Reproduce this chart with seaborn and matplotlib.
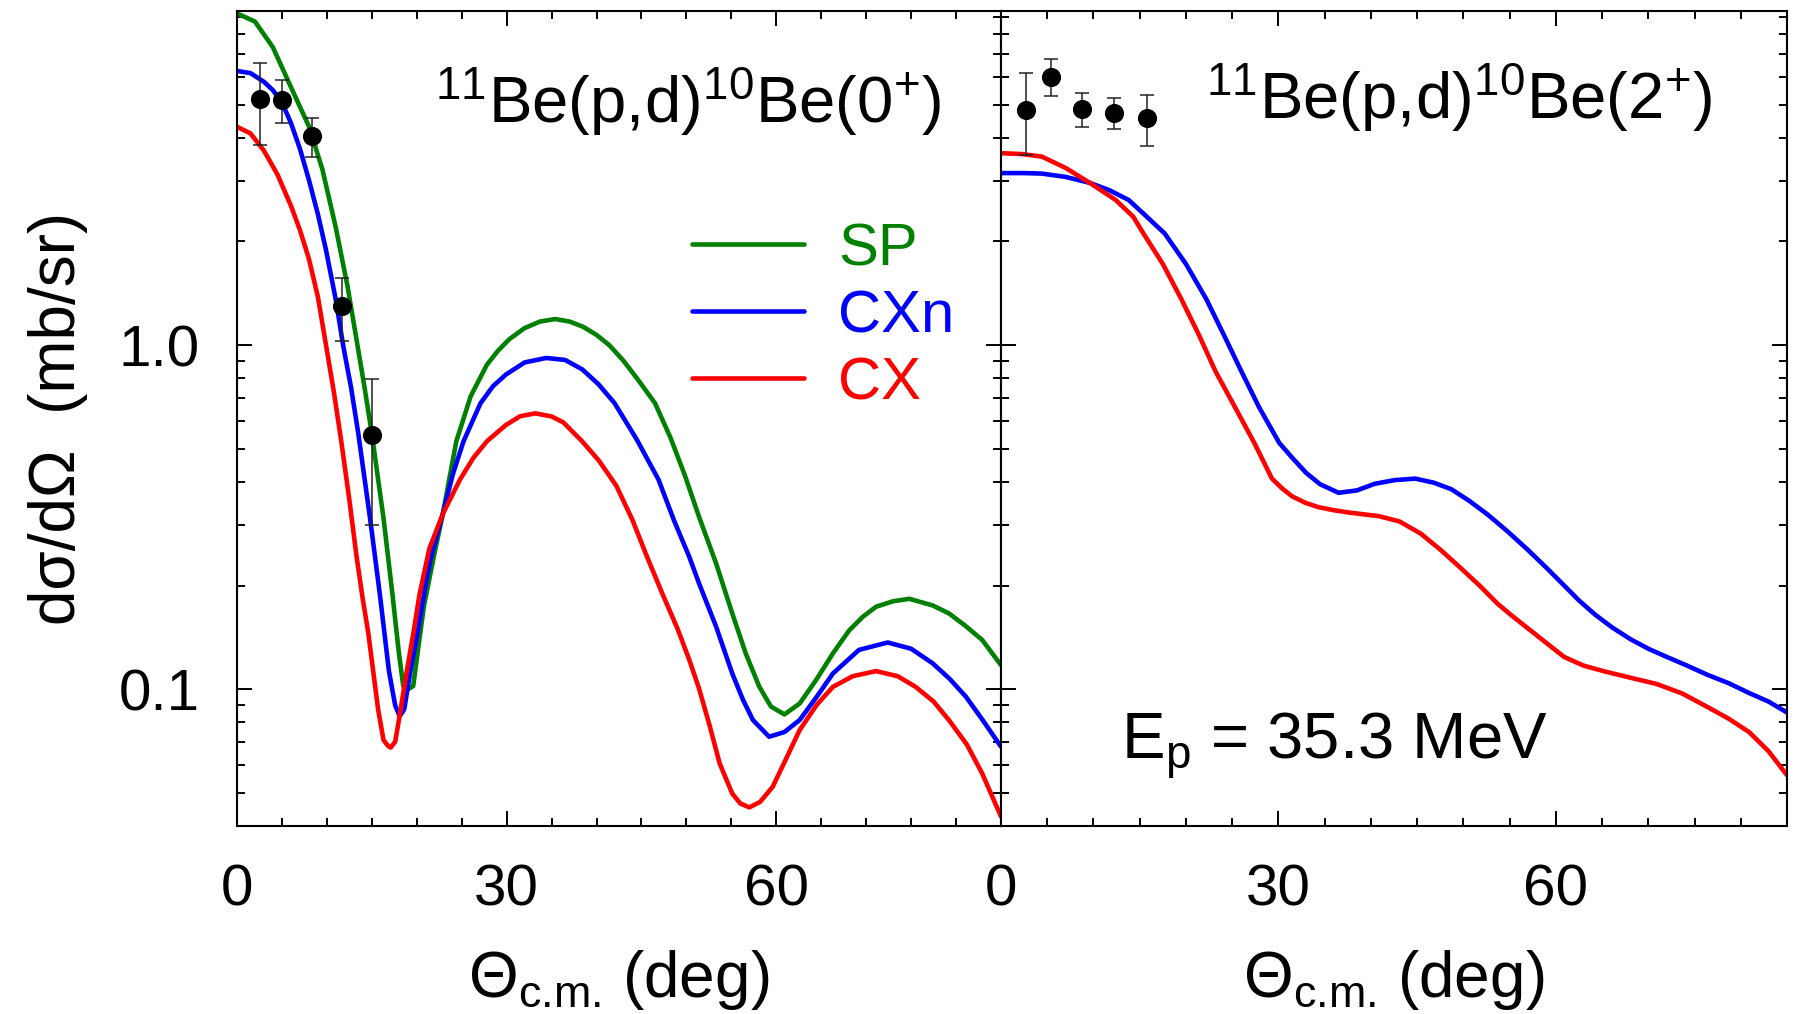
import matplotlib
matplotlib.use("Agg")
import matplotlib.pyplot as plt
from matplotlib.lines import Line2D
from matplotlib.ticker import FixedLocator, LogLocator, NullFormatter, FixedFormatter, MultipleLocator
import numpy as np
import pandas as pd
import seaborn as sns

# ---------------- data ----------------
models = ["SP", "CXn", "CX"]
colors = {"SP": "#008000", "CXn": "#0000ff", "CX": "#ff0000"}

# left panel: 11Be(p,d)10Be(0+)
sp0_theta = [0, 2.0, 4.0, 6.0, 8.0, 9.5, 11.0, 12.3, 13.4, 14.2, 15.0, 16.3, 17.3, 18.0, 18.5, 19.05,
             19.6, 20.1, 20.8, 21.9, 22.9, 24.4, 26.0, 27.8, 29.0, 30.3, 32.0, 33.7, 35.4, 37.0,
             38.5, 40.0, 41.4, 43.0, 44.5, 46.5, 48.2, 49.8, 51.4, 53.3, 55.1, 56.6, 58.1, 59.4,
             60.9, 62.6, 64.4, 66.3, 68.1, 69.6, 71.1, 73.0, 74.8, 77.4, 79.2, 81.0, 82.9, 85.0]
sp0_xs = [9.20, 8.71, 7.33, 5.62, 4.32, 3.24, 2.19, 1.48, 1.0, 0.75, 0.552, 0.314, 0.188, 0.128, 0.102, 0.100,
          0.102, 0.128, 0.1745, 0.243, 0.323, 0.525, 0.71, 0.876, 0.96, 1.04, 1.12, 1.17, 1.19, 1.17,
          1.13, 1.07, 1.0, 0.90, 0.80, 0.678, 0.54, 0.42, 0.317, 0.232, 0.166, 0.127, 0.1017, 0.089,
          0.0844, 0.0908, 0.106, 0.127, 0.148, 0.162, 0.1735, 0.180, 0.183, 0.175, 0.166, 0.153, 0.139, 0.1174]

cxn0_theta = [0, 1.5, 3.0, 4.0, 5.0, 6.0, 7.0, 8.0, 9.0, 9.9, 11.0, 11.8, 12.7, 13.5, 14.8, 15.9, 16.9,
              17.6, 18.1, 18.6, 19.3, 20.1, 21.0, 21.6, 22.9, 24.0, 25.2, 27.1, 28.5, 29.9, 32.0, 34.4,
              36.5, 38.4, 40.2, 42.0, 44.5, 46.9, 48.6, 50.3, 51.4, 53.3, 55.1, 56.3, 57.4, 59.2, 60.9,
              62.6, 64.5, 66.3, 69.2, 72.4, 75.0, 77.4, 79.3, 81.1, 83.0, 85.0]
cxn0_xs = [6.26, 6.17, 5.82, 5.50, 5.07, 4.42, 3.72, 3.02, 2.40, 1.89, 1.35, 1.0, 0.75, 0.552, 0.314, 0.188, 0.113,
           0.0896, 0.0834, 0.0873, 0.113, 0.146, 0.203, 0.243, 0.323, 0.42, 0.525, 0.678, 0.76, 0.82, 0.89, 0.917,
           0.905, 0.85, 0.77, 0.678, 0.53, 0.406, 0.31, 0.243, 0.203, 0.152, 0.111, 0.093, 0.0813, 0.0727, 0.075,
           0.0813, 0.095, 0.111, 0.130, 0.1366, 0.131, 0.1188, 0.107, 0.095, 0.081, 0.068]

cx0_theta = [0, 1.5, 3.0, 4.5, 6.0, 7.0, 8.0, 9.0, 9.9, 10.8, 11.6, 12.5, 13.3, 14.0, 14.6, 15.7, 16.3,
             16.8, 17.1, 17.6, 18.0, 18.9, 19.7, 20.3, 21.4, 22.9, 24.8, 26.3, 27.8, 29.9, 31.5, 33.2,
             35.0, 36.3, 38.4, 40.3, 42.2, 44.0, 45.6, 47.3, 49.0, 50.3, 51.4, 52.6, 53.7, 55.1, 56.0,
             57.0, 58.2, 59.6, 61.0, 62.6, 64.5, 66.3, 68.5, 71.1, 73.5, 75.5, 77.5, 79.2, 81.2, 82.9, 85.0]
cx0_xs = [4.31, 4.12, 3.67, 3.13, 2.54, 2.16, 1.78, 1.38, 1.0, 0.724, 0.525, 0.355, 0.243, 0.182, 0.146, 0.0873, 0.0711,
          0.0684, 0.0676, 0.0703, 0.0809, 0.113, 0.1496, 0.188, 0.256, 0.323, 0.406, 0.47, 0.525, 0.585, 0.621, 0.633,
          0.62, 0.596, 0.525, 0.46, 0.39, 0.31, 0.243, 0.19, 0.15, 0.122, 0.1005, 0.078, 0.0608, 0.0497, 0.0465,
          0.0453, 0.047, 0.052, 0.062, 0.076, 0.09, 0.1015, 0.109, 0.1128, 0.109, 0.1015, 0.092, 0.0813, 0.069, 0.0569, 0.0426]

exp0_theta = [2.57, 5.03, 8.3, 11.7, 15.0]
exp0_xs = [5.19, 5.16, 4.05, 1.30, 0.548]
exp0_hi = [6.59, 5.89, 4.57, 1.57, 0.797]
exp0_lo = [3.81, 4.41, 3.53, 1.03, 0.299]

# right panel: 11Be(p,d)10Be(2+)
cxn2_theta = [0, 2.5, 4.4, 7.0, 9.6, 11.7, 13.8, 15.4, 17.7, 20.0, 22.2, 24.1, 26.0, 27.9, 30.1, 31.5,
              33.0, 34.5, 36.5, 38.5, 40.4, 42.6, 44.8, 46.8, 48.7, 50.6, 52.6, 54.8, 57.0, 59.0, 60.9,
              62.5, 64.2, 66.1, 68.1, 70.0, 72.0, 74.2, 76.4, 78.7, 80.9, 83.0, 85.0]
cxn2_xs = [3.16, 3.16, 3.15, 3.08, 2.96, 2.82, 2.64, 2.41, 2.11, 1.72, 1.36, 1.07, 0.838, 0.66, 0.519, 0.47,
           0.425, 0.394, 0.372, 0.378, 0.395, 0.405, 0.409, 0.398, 0.381, 0.353, 0.322, 0.287, 0.2535, 0.225, 0.20,
           0.181, 0.165, 0.151, 0.1395, 0.131, 0.124, 0.117, 0.11, 0.104, 0.0974, 0.092, 0.0855]

cx2_theta = [0, 2.2, 4.4, 7.0, 9.6, 12.4, 14.3, 15.4, 17.5, 19.5, 21.4, 23.2, 25.3, 27.4, 29.3, 30.4,
             31.5, 32.9, 34.3, 36.0, 37.6, 40.9, 43.1, 45.4, 47.6, 49.7, 51.75, 53.7, 55.3, 57.0, 59.0,
             60.9, 63.0, 65.3, 68.0, 70.9, 73.7, 76.4, 78.7, 80.9, 83.0, 85.0]
cx2_xs = [3.61, 3.59, 3.53, 3.27, 2.96, 2.64, 2.36, 2.11, 1.72, 1.36, 1.07, 0.838, 0.66, 0.519, 0.409, 0.383,
          0.363, 0.348, 0.338, 0.331, 0.326, 0.318, 0.307, 0.283, 0.253, 0.225, 0.20, 0.177, 0.163, 0.15, 0.136,
          0.124, 0.117, 0.1125, 0.108, 0.1035, 0.097, 0.0887, 0.082, 0.075, 0.066, 0.0562]

exp2_theta = [2.69, 5.46, 8.79, 12.17, 15.83]
exp2_xs = [4.82, 6.03, 4.84, 4.72, 4.56]
exp2_hi = [6.16, 6.77, 5.41, 5.21, 5.34]
exp2_lo = [3.57, 5.29, 4.31, 4.25, 3.79]

x_ticks = [0, 30, 60]
x_ticklabels = ["0", "30", "60"]
y_ticks = [0.1, 1.0]
y_ticklabels = ["0.1", "1.0"]

# ---------------- style ----------------
sns.set_theme(style="ticks")
plt.rcParams["font.family"] = ["Liberation Sans", "DejaVu Sans"]
plt.rcParams.update({
    "mathtext.fontset": "custom",
    "mathtext.rm": "Liberation Sans",
    "mathtext.it": "Liberation Sans:italic",
    "mathtext.bf": "Liberation Sans:bold",
    "mathtext.default": "regular",
    "axes.edgecolor": "black",
    "axes.linewidth": 1.5,
    "xtick.color": "black",
    "ytick.color": "black",
    "text.color": "black",
    "axes.labelcolor": "black",
})

W, H = 1794, 1014
fig = plt.figure(figsize=(W / 100, H / 100), dpi=100)


def px_axes(x0, y0, x1, y1):
    return [x0 / W, 1 - y1 / H, (x1 - x0) / W, (y1 - y0) / H]


axL = fig.add_axes(px_axes(237, 11, 1001, 826))
axR = fig.add_axes(px_axes(1001, 11, 1787, 826))


def long_df(curves):
    frames = [pd.DataFrame({"theta": t, "xs": v, "model": name}) for name, (t, v) in curves.items()]
    return pd.concat(frames, ignore_index=True)


dfL = long_df({"SP": (sp0_theta, sp0_xs), "CXn": (cxn0_theta, cxn0_xs), "CX": (cx0_theta, cx0_xs)})
dfR = long_df({"CXn": (cxn2_theta, cxn2_xs), "CX": (cx2_theta, cx2_xs)})

LW = 3.3
sns.lineplot(data=dfL, x="theta", y="xs", hue="model", hue_order=models, palette=colors,
             estimator=None, sort=False, lw=LW, legend=False, ax=axL)
sns.lineplot(data=dfR, x="theta", y="xs", hue="model", hue_order=["CXn", "CX"], palette=colors,
             estimator=None, sort=False, lw=LW, legend=False, ax=axR)
for ax in (axL, axR):
    for ln in ax.get_lines():
        ln.set_solid_joinstyle("round")


def exp_points(ax, t, v, hi, lo):
    v = np.asarray(v); hi = np.asarray(hi); lo = np.asarray(lo)
    ax.errorbar(t, v, yerr=[v - lo, hi - v], fmt="none", ecolor="#222222",
                elinewidth=1.1, capsize=4.8, capthick=1.1, zorder=4)
    sns.scatterplot(x=t, y=v, color="black", s=190, linewidth=0, zorder=5, ax=ax)


exp_points(axL, exp0_theta, exp0_xs, exp0_hi, exp0_lo)
exp_points(axR, exp2_theta, exp2_xs, exp2_hi, exp2_lo)

for ax in (axL, axR):
    ax.set_yscale("log")
    ax.set_xlim(0, 85)
    ax.set_ylim(0.04, 9.35)
    ax.xaxis.set_major_locator(FixedLocator(x_ticks))
    ax.xaxis.set_major_formatter(FixedFormatter(x_ticklabels))
    ax.xaxis.set_minor_locator(MultipleLocator(5))
    ax.yaxis.set_major_locator(FixedLocator(y_ticks))
    ax.yaxis.set_major_formatter(FixedFormatter(y_ticklabels))
    ax.yaxis.set_minor_locator(LogLocator(base=10, subs=np.arange(2, 10) * 1.0, numticks=20))
    ax.yaxis.set_minor_formatter(NullFormatter())
    ax.tick_params(which="both", direction="in", top=True, right=True, width=1.4,
                   labelsize=42, pad=27, color="black")
    ax.tick_params(which="major", length=10.5)
    ax.tick_params(which="minor", length=5.5)
    for s in ax.spines.values():
        s.set_color("black")
        s.set_linewidth(1.5)
    ax.set_xlabel(r"Θ$_{\text{c.m.}}$ (deg)", fontsize=46)
    ax.xaxis.set_label_coords(0.5, -0.150)

axR.tick_params(labelleft=False)
axR.set_ylabel("")
axL.set_ylabel("dσ/dΩ  (mb/sr)", fontsize=46)
axL.yaxis.set_label_coords(-0.195, 0.5)

axL.text(0.591, 0.8626, r"$^{11}$Be(p,d)$^{10}$Be(0$^{+}$)", transform=axL.transAxes,
         ha="center", va="baseline", fontsize=47)
axR.text(0.583, 0.868, r"$^{11}$Be(p,d)$^{10}$Be(2$^{+}$)", transform=axR.transAxes,
         ha="center", va="baseline", fontsize=47)
axR.text(0.4237, 0.081, r"E$_{p}$ = 35.3 MeV", transform=axR.transAxes,
         ha="center", va="baseline", fontsize=47)

handles = [Line2D([], [], color=colors[m], lw=LW) for m in models]
axL.legend(handles, models, loc="center left", bbox_to_anchor=(0.595, 0.625), frameon=False,
           fontsize=43, handlelength=1.88, handletextpad=0.58, labelspacing=0.2,
           borderpad=0, borderaxespad=0, labelcolor="linecolor")

fig.savefig("out.png", dpi=100)
